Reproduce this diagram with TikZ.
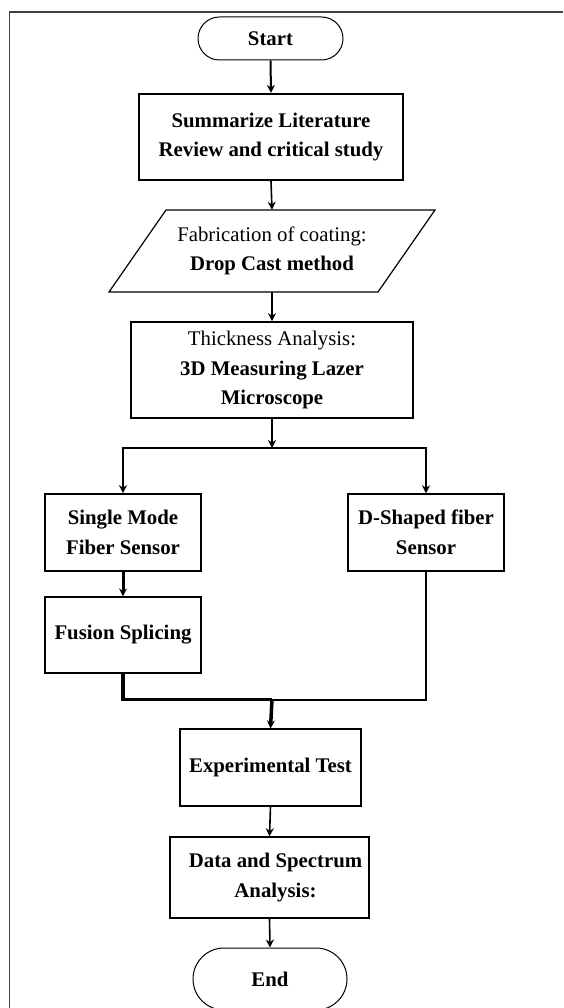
\documentclass[tikz,border=0pt]{standalone}
\usepackage{fontspec}
\setmainfont{Liberation Serif}
\usetikzlibrary{arrows.meta}
\begin{document}
\begin{tikzpicture}[x=1pt,y=-1pt,
  box/.style={draw, rectangle, inner sep=0pt, align=center,
    font=\fontsize{20.8}{29.5}\selectfont\bfseries},
  term/.style={box},
  arr/.style={-{Stealth[length=8pt,width=8pt]}},
]
\useasboundingbox (0,0) rectangle (563,1008);
\draw[line width=1.5pt, black!75] (9.5,1008) -- (9.5,12) -- (563,12);

\node[term, line width=1pt, minimum width=145pt, minimum height=43pt, rounded corners=21.5pt] (start) at (270.5,38.5) {Start};
\node[box, line width=2.2pt, minimum width=264pt, minimum height=86pt] (sum) at (271,137) {Summarize Literature\\Review and critical study};
\draw[line width=1.2pt] (109,292) -- (166,210) -- (435,210) -- (378,292) -- cycle;
\node[box, draw=none, minimum width=212pt, minimum height=82pt] (fab) at (272,251) {\textmd{Fabrication of coating:}\\Drop Cast method};
\node[box, line width=1.6pt, minimum width=282pt, minimum height=96pt] (thick) at (272,370) {\textmd{Thickness Analysis:}\\3D Measuring Lazer\\Microscope};
\node[box, line width=1.6pt, minimum width=156pt, minimum height=77pt] (single) at (123,532.5) {Single Mode\\Fiber Sensor};
\node[box, line width=1.4pt, minimum width=156pt, minimum height=77pt] (dshape) at (426,532.5) {D-Shaped fiber\\Sensor};
\node[box, line width=1.2pt, minimum width=156pt, minimum height=76pt] (fusion) at (123,635) {Fusion Splicing};
\node[box, line width=1.2pt, minimum width=181pt, minimum height=77pt] (exp) at (270.5,767.5) {Experimental Test};
\node[box, line width=1.4pt, minimum width=199pt, minimum height=81pt] (data) at (269.5,877.5) {\hspace*{12pt}Data and Spectrum\\\hspace*{12pt}Analysis:};
\node[term, line width=1pt, minimum width=154pt, minimum height=62pt, rounded corners=31pt] (end) at (270,979) {End};

\coordinate (s) at (272,448);
\coordinate (m) at (272,699.5);

\draw[arr, line width=2pt] (start.south) -- (sum.north);
\draw[arr, line width=1.6pt] (sum.south) -- (fab.north);
\draw[arr, line width=2pt] (fab.south) -- (thick.north);
\draw[arr, line width=2pt] (thick.south) -- (s);
\draw[arr, line width=2pt] (s) -| (single.north);
\draw[arr, line width=2pt] (s) -| (dshape.north);
\draw[arr, line width=3pt] (single.south) -- (fusion.south |- fusion.north);
\draw[line width=3.5pt] (fusion.south) |- (m);
\draw[line width=2pt] (dshape.south) |- (m);
\draw[arr, line width=3.5pt] (m) -- (exp.north);
\draw[arr, line width=1.6pt] (exp.south) -- (data.north);
\draw[arr, line width=1.6pt] (data.south) -- (end.north);
\end{tikzpicture}
\end{document}
